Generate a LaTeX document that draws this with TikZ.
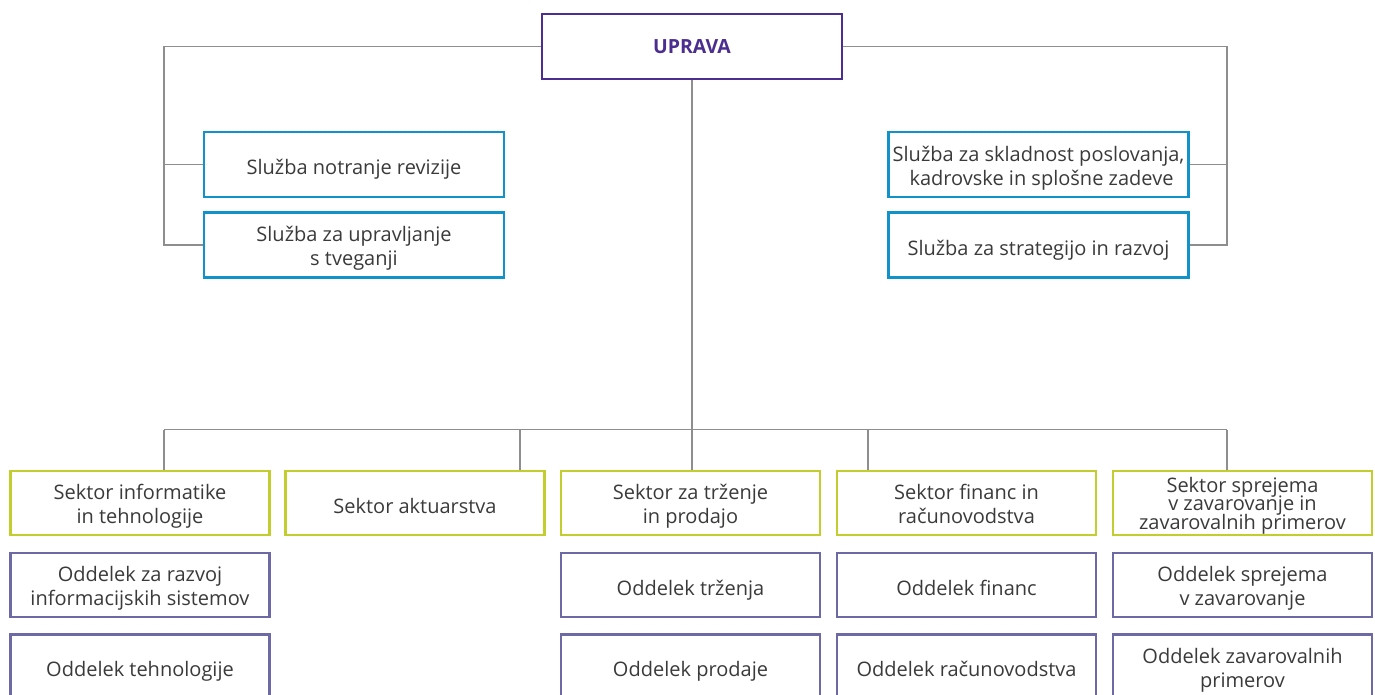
\documentclass[tikz,border=0pt]{standalone}
\usepackage{fontspec}
\setmainfont{Open Sans}
\usetikzlibrary{positioning}

\definecolor{uprava}{HTML}{4B2E8F}
\definecolor{sluzba}{HTML}{1193CA}
\definecolor{sektor}{HTML}{C3CD2E}
\definecolor{oddelek}{HTML}{6D69A5}
\definecolor{crta}{HTML}{8E8E8E}
\definecolor{besedilo}{HTML}{3A3A3A}

\tikzset{
  okvir/.style={draw, line width=2.4pt, align=center, inner sep=0pt, text=besedilo,
    font=\fontsize{20}{24}\selectfont},
  % enotna lega osnovnice v okvirjih
  vrstice/.style 2 args={execute at begin node={\rule{0pt}{#1pt}},
    execute at end node={\rule[-#2pt]{0pt}{#2pt}}},
  dve/.style={vrstice={47.5}{6}},
  upr/.style={okvir, draw=uprava, text=uprava, font=\fontsize{19.5}{24}\selectfont\bfseries,
    minimum width=300pt, minimum height=65pt},
  sluz/.style={okvir, vrstice={26}{6}, draw=sluzba, minimum width=300pt, minimum height=65pt},
  sekt/.style={okvir, vrstice={26}{6}, draw=sektor, minimum width=259pt, minimum height=64pt},
  odd/.style={okvir, vrstice={26}{6}, draw=oddelek, minimum width=259pt, minimum height=64pt},
  vez/.style={draw=crta, line width=1.2pt}
}

\begin{document}
\begin{tikzpicture}[x=1pt,y=-1pt]
  \useasboundingbox (0,0) rectangle (1375,695);

  \node[upr] (upr) at (692,46.5) {UPRAVA};

  % sluzbe
  \node[sluz] (sl1) at (354,164.5) {Služba notranje revizije};
  \node[sluz, dve] (sl2) at (354,245) {Služba za upravljanje\\s tveganji};
  \node[sluz, dve] (sd1) at (1038.5,164.5) {Služba za skladnost poslovanja,\\\hspace{0.3em}kadrovske in splošne zadeve};
  \node[sluz] (sd2) at (1038.5,245) {Služba za strategijo in razvoj};

  \coordinate (lrob) at (164,0);
  \coordinate (drob) at (1227,0);
  \draw[vez] (upr.west) -| (lrob |- sl2.west) -- (sl2.west);
  \draw[vez] (sl1.west) -- (lrob |- sl1.west);
  \draw[vez] (upr.east) -| (drob |- sd2.east) -- (sd2.east);
  \draw[vez] (sd1.east) -- (drob |- sd1.east);

  % sektorji
  \node[sekt, dve] (sk1) at (140,503) {Sektor informatike\\in tehnologije};
  \node[sekt] (sk2) at (415,503) {Sektor aktuarstva};
  \node[sekt, dve] (sk3) at (690.5,503) {Sektor za trženje\\in prodajo};
  \node[sekt, dve] (sk4) at (966.5,503) {Sektor financ in\\računovodstva};
  \node[sekt, vrstice={58}{6}, font={\fontsize{20}{18.3}\selectfont\lineskiplimit=-30pt\relax}]
    (sk5) at (1242.5,503) {Sektor sprejema\\v zavarovanje in\\zavarovalnih primerov};

  \coordinate (vodilo) at (692,429.5);
  \draw[vez] (upr.south) -- (vodilo);
  \draw[vez] (lrob |- vodilo) -- (drob |- vodilo);
  \foreach \x/\s in {164/sk1,520/sk2,692/sk3,868/sk4,1227/sk5}
    \draw[vez] (\x,429.5) -- (\x,0 |- \s.north);

  % oddelki
  \node[odd, dve] (od1) at (140,585) {Oddelek za razvoj\\informacijskih sistemov};
  \node[odd] (od2) at (140,666.5) {Oddelek tehnologije};
  \node[odd] (od3) at (690.5,585) {Oddelek trženja};
  \node[odd] (od4) at (690.5,666.5) {Oddelek prodaje};
  \node[odd] (od5) at (966.5,585) {Oddelek financ};
  \node[odd] (od6) at (966.5,666.5) {Oddelek računovodstva};
  \node[odd, dve] (od7) at (1242.5,585) {Oddelek sprejema\\v zavarovanje};
  \node[odd, dve] (od8) at (1242.5,666.5) {Oddelek zavarovalnih\\primerov};
\end{tikzpicture}
\end{document}
